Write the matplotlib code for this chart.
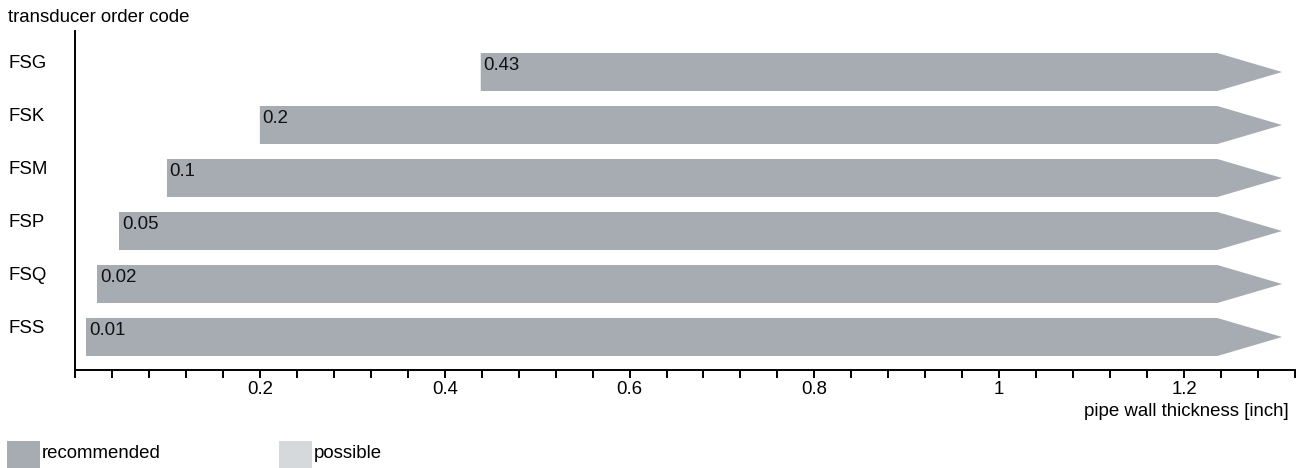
import matplotlib
matplotlib.use("Agg")
import matplotlib.pyplot as plt
from matplotlib.patches import Polygon, Rectangle
from matplotlib.ticker import MultipleLocator

plt.rcParams['font.family'] = ['Liberation Sans', 'DejaVu Sans']
plt.rcParams['font.size'] = 13.4

# transducer codes, top to bottom
codes = ["FSG", "FSK", "FSM", "FSP", "FSQ", "FSS"]
# minimum wall thickness (bar start) and its printed label
start_vals = [0.439, 0.200, 0.0995, 0.0476, 0.0238, 0.0119]
start_labels = ["0.43", "0.2", "0.1", "0.05", "0.02", "0.01"]
# recommended range ends here, arrow tip beyond it
end_vals = [1.236, 1.236, 1.236, 1.236, 1.236, 1.236]
tip_vals = [1.306, 1.306, 1.306, 1.306, 1.306, 1.306]

rec_color = "#a6acb2"
pos_color = "#d5d9dc"

W, H = 1306, 468
fig = plt.figure(figsize=(W / 100, H / 100), dpi=100)
ax = fig.add_axes([75 / W, 98 / H, 1220 / W, 339 / H])

n = len(codes)
ypos = list(range(n - 1, -1, -1))
h = 0.717

for y, s, e, t, lab in zip(ypos, start_vals, end_vals, tip_vals, start_labels):
    pts = [(s, y - h / 2), (e, y - h / 2), (t, y), (e, y + h / 2), (s, y + h / 2)]
    ax.add_patch(Polygon(pts, closed=True, facecolor=rec_color, edgecolor="none"))
    ax.annotate(lab, (s, y + h / 2), xytext=(2, -3), textcoords="offset points",
                ha="left", va="top", color="#111111")

ax.set_xlim(0, 1.32)
ax.set_ylim(-0.623, n - 1 + 0.774)

ax.xaxis.set_major_locator(MultipleLocator(0.2))
ax.xaxis.set_minor_locator(MultipleLocator(0.04))
ax.set_xticks([0.2, 0.4, 0.6, 0.8, 1.0, 1.2])
ax.set_xticklabels(["0.2", "0.4", "0.6", "0.8", "1", "1.2"])
ax.tick_params(axis="x", which="both", direction="out", length=6, width=1.4, pad=2)

ax.set_yticks(ypos)
ax.set_yticklabels(codes)
ax.tick_params(axis="y", length=0, pad=48)
for tl in ax.get_yticklabels():
    tl.set_horizontalalignment("left")
    tl.set_verticalalignment("bottom")

for side in ["top", "right"]:
    ax.spines[side].set_visible(False)
for side in ["left", "bottom"]:
    ax.spines[side].set_linewidth(1.4)

fig.text(8 / W, 1 - 17 / H, "transducer order code", ha="left", va="center")
fig.text(1289 / W, 1 - 411 / H, "pipe wall thickness [inch]", ha="right", va="center")

# legend
fig.add_artist(Rectangle((7 / W, 0), 33 / W, 27 / H, transform=fig.transFigure,
                         facecolor=rec_color, edgecolor="none"))
fig.text(42 / W, 1 - 453 / H, "recommended", ha="left", va="center")
fig.add_artist(Rectangle((279 / W, 0), 33 / W, 27 / H, transform=fig.transFigure,
                         facecolor=pos_color, edgecolor="none"))
fig.text(314 / W, 1 - 453 / H, "possible", ha="left", va="center")

fig.savefig("out.png", dpi=100)
